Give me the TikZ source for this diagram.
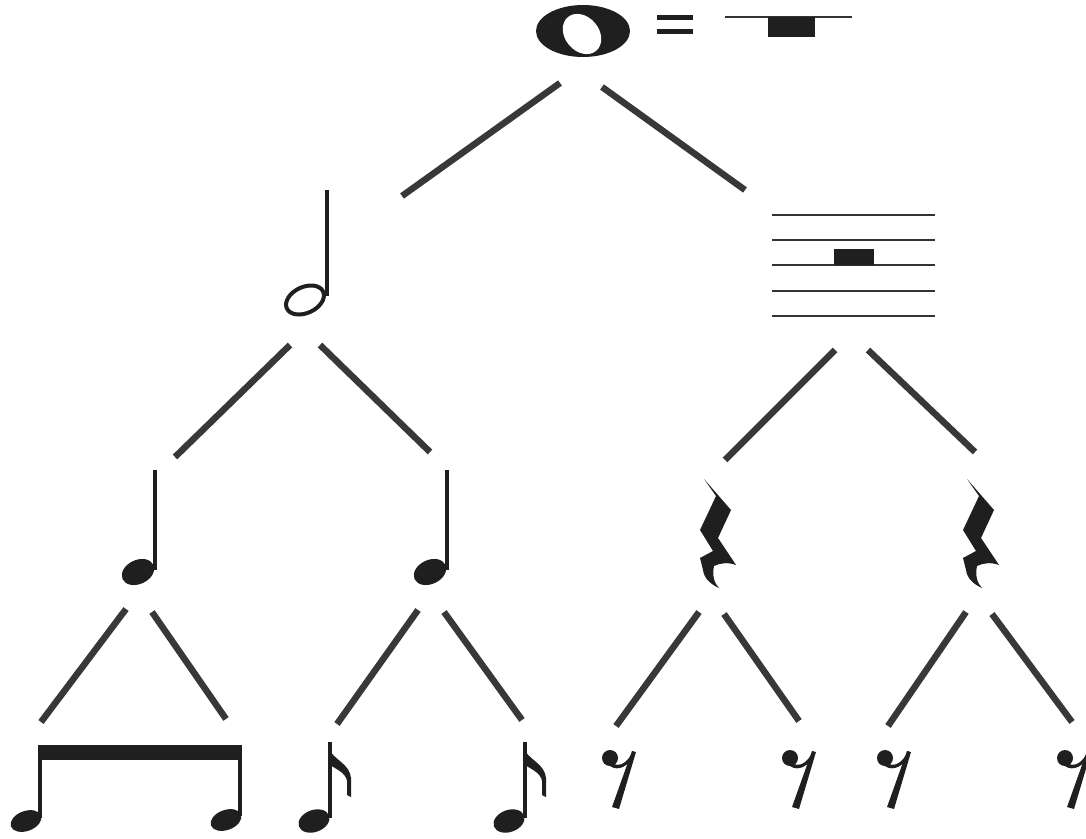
\documentclass[tikz,border=0pt]{standalone}
\begin{document}
\begin{tikzpicture}[x=1pt,y=-1pt,
  branch/.style={line width=6.5pt, draw=black!78},
  sym/.style={fill=black!88},
  stafline/.style={line width=2.6pt, draw=black!80},
  stemline/.style={line width=4pt, draw=black!88}]
\useasboundingbox (0,0) rectangle (1086,838);

% whole note = whole rest
\fill[sym] (583,31) ellipse [x radius=47, y radius=26];
\fill[white, rotate around={-50:(582,34)}] (582,34) ellipse [x radius=22, y radius=17];
\fill[sym] (657,15) rectangle (693,20);
\fill[sym] (657,29) rectangle (693,34);
\draw[stafline] (725,17) -- (852,17);
\fill[sym] (768,17) rectangle (815,37);

% level 1 branches
\draw[branch] (560,83) -- (402,196);
\draw[branch] (602,87) -- (745,190);

% half note
\draw[stemline] (327,190) -- (327,296);
\draw[line width=4pt, draw=black!88, rotate around={25:(305,300)}] (305,300) ellipse [x radius=20, y radius=13];

% half rest on staff
\foreach \y in {215,240,265,291,316} \draw[stafline] (772,\y) -- (935,\y);
\fill[sym] (834,249) rectangle (874,265);

% level 2 branches
\draw[branch] (290,345) -- (175,457);
\draw[branch] (320,345) -- (430,452);
\draw[branch] (835,350) -- (725,460);
\draw[branch] (868,350) -- (975,452);

% quarter notes
\foreach \x in {0,292} {
  \draw[stemline] (155+\x,470) -- (155+\x,570);
  \fill[sym, rotate around={25:(138+\x,572)}] (138+\x,572) ellipse [x radius=17, y radius=12];
}

% quarter rests
\foreach \s in {0,263} {
  \begin{scope}[xshift=\s pt]
  \fill[sym] (704,479) -- (731,510) -- (718,538) -- (736,565)
     .. controls (728,562) and (720,563) .. (714,566)
     .. controls (712,575) and (714,583) .. (719,588)
     .. controls (710,584) and (704,578) .. (703,570)
     -- (700,558) -- (713,551) -- (700,530) -- (716,496) -- cycle;
  \end{scope}
}

% level 3 branches
\draw[branch] (126,609) -- (41,722);
\draw[branch] (152,612) -- (226,719);
\draw[branch] (418,610) -- (337,724);
\draw[branch] (444,612) -- (522,720);
\draw[branch] (699,612) -- (616,726);
\draw[branch] (724,614) -- (799,721);
\draw[branch] (966,612) -- (888,726);
\draw[branch] (992,614) -- (1072,722);

% beamed eighth notes
\draw[stemline] (40,746) -- (40,818);
\draw[stemline] (240,746) -- (240,816);
\fill[sym] (38,745) rectangle (242,760);
\fill[sym, rotate around={20:(26,821)}] (26,821) ellipse [x radius=16, y radius=10];
\fill[sym, rotate around={20:(226,820)}] (226,820) ellipse [x radius=16, y radius=10];

% flagged eighth notes
\foreach \s in {330,525} {
  \draw[stemline] (\s,742) -- (\s,818);
  \fill[sym, rotate around={20:(\s-16,821)}] (\s-16,821) ellipse [x radius=16, y radius=11];
  \fill[sym] (\s-2,748) .. controls (\s+4,760) and (\s+20,764) .. (\s+21,778)
     -- (\s+21,797) -- (\s+17,795) -- (\s+17,781)
     .. controls (\s+16,773) and (\s+6,769) .. (\s,765) -- cycle;
}

% eighth rests
\foreach \x in {610,790,885,1065} {
  \fill[sym] (\x,758) circle [radius=8];
  \fill[sym] (\x+2,763) .. controls (\x+10,768) and (\x+18,762) .. (\x+23,751)
     -- (\x+25,753) .. controls (\x+20,766) and (\x+8,772) .. (\x,766) -- cycle;
  \fill[sym] (\x+22,751) -- (\x+26,752) -- (\x+9,809) -- (\x+2,807) -- cycle;
}
\end{tikzpicture}
\end{document}
